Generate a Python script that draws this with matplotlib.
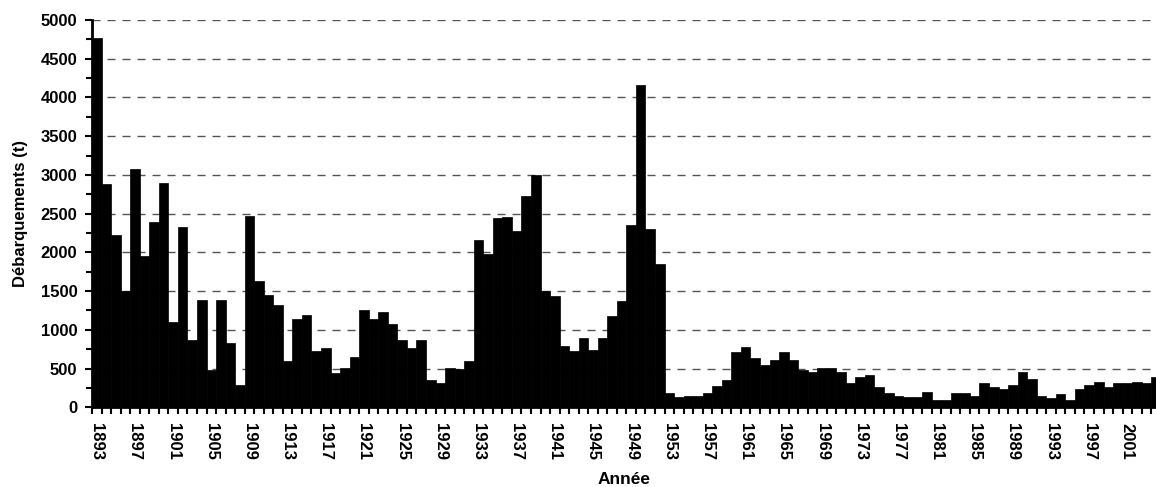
import numpy as np
import matplotlib.pyplot as plt
from matplotlib.ticker import MultipleLocator, FixedLocator

plt.rcParams['font.family'] = ['Liberation Sans', 'DejaVu Sans']
plt.rcParams['font.weight'] = 'bold'

# Débarquements annuels (t), 1893-2004
years = list(range(1893, 2005))
landings = [
    4770, 2880, 2225, 1500, 3070, 1955, 2390, 2890, 1100, 2330,
    865, 1385, 475, 1385, 835, 290, 2475, 1630, 1445, 1320,
    600, 1135, 1190, 725, 760, 440, 510, 655, 1250, 1140,
    1225, 1070, 870, 760, 870, 355, 310, 510, 495, 600,
    2160, 1975, 2440, 2460, 2280, 2730, 3005, 1500, 1435, 795,
    725, 890, 740, 890, 1180, 1375, 2350, 4160, 2300, 1845,
    190, 130, 145, 145, 180, 275, 355, 710, 775, 640,
    545, 610, 710, 610, 480, 460, 510, 510, 460, 310,
    385, 415, 265, 180, 145, 130, 130, 200, 95, 95,
    180, 180, 145, 310, 260, 235, 290, 460, 365, 145,
    115, 170, 95, 235, 290, 325, 265, 310, 310, 325,
    310, 395,
]
label_years = years[::4]

fig = plt.figure(figsize=(11.56, 4.87), dpi=100)
ax = fig.add_axes([0.0796, 0.1637, 1 - 0.0796, 0.959 - 0.1637])

ax.bar(years, landings, width=1.0, color='black', edgecolor='black', linewidth=0.5, zorder=2)

ax.set_xlim(1892.5, 2004.0)
ax.set_ylim(0, 5000)

# y axis
ax.yaxis.set_major_locator(MultipleLocator(500))
ax.yaxis.set_minor_locator(MultipleLocator(250))
ax.tick_params(axis='y', which='major', length=5, width=1.5, pad=5.5, labelsize=12)
ax.tick_params(axis='y', which='minor', length=4, width=1.5)
ax.yaxis.grid(True, which='major', color='#555555', linewidth=1.0, dashes=(5.8, 5))
ax.set_axisbelow(True)

# x axis: ticks between years, labels every 4 years
ax.xaxis.set_major_locator(FixedLocator([y - 0.5 for y in years]))
ax.xaxis.set_major_formatter(plt.NullFormatter())
ax.xaxis.set_minor_locator(FixedLocator(label_years))
ax.set_xticklabels([str(y) for y in label_years], minor=True, rotation=-90, fontsize=12)
ax.tick_params(axis='x', which='major', length=5, width=1.5)
ax.tick_params(axis='x', which='minor', length=0, pad=11)

for s in ['top', 'right']:
    ax.spines[s].set_visible(False)
for s in ['left', 'bottom']:
    ax.spines[s].set_linewidth(2)

fig.text(0.5398, 0.016, 'Année', ha='center', va='center', fontsize=12.5, fontweight='bold')
fig.text(0.0175, 0.562, 'Débarquements (t)', ha='center', va='center', rotation=90,
         fontsize=12, fontweight='bold')

fig.savefig('out.png', dpi=100)
